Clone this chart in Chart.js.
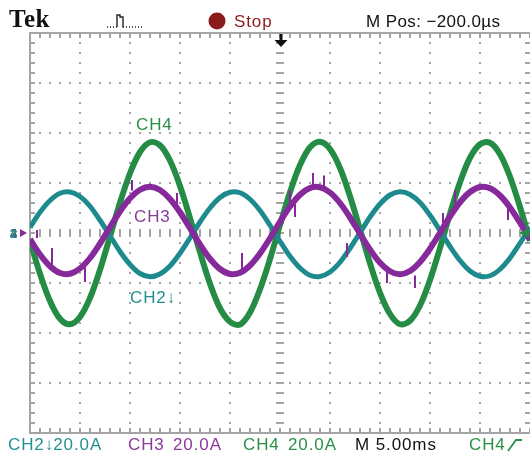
<!DOCTYPE html>
<html>
<head>
<meta charset="utf-8">
<script src="https://cdn.jsdelivr.net/npm/chart.js@4.4.1/dist/chart.umd.min.js"></script>
<style>
  html, body { margin: 0; padding: 0; background: #fff; }
  #screen { position: relative; width: 530px; height: 456px; overflow: hidden; background: #fff; }
  #screen canvas { position: absolute; left: 0; top: 0; }
  .lbl { position: absolute; white-space: pre; font-family: "Liberation Sans", Arial, sans-serif; font-size: 17px; line-height: 17px; letter-spacing: 0.9px; }
  .ch2 { color: #23908f; }
  .ch3 { color: #8a3a9c; }
  .ch4 { color: #2a9048; }
  .arr { font-weight: bold; letter-spacing: 0; }
</style>
</head>
<body>
<div id="screen">
  <canvas id="scope" width="530" height="456"></canvas>

  <div class="lbl" style="left:9px;top:6px;font:bold 25px/25px 'Liberation Serif',serif;color:#111;letter-spacing:0.5px">Tek</div>
  <svg style="position:absolute;left:106px;top:10px" width="40" height="20">
    <path d="M1 17h1M4 17h1M7 17h1M10 17h1 M11 17V5h3v2h3v10h1 M20 17h1M23 17h1M26 17h1M29 17h1M32 17h1M35 17h1"
          fill="none" stroke="#222" stroke-width="1.4"/>
  </svg>
  <svg style="position:absolute;left:207px;top:11px" width="20" height="20">
    <circle cx="10" cy="10" r="8.5" fill="#8b1a1a"/>
  </svg>
  <div class="lbl" style="left:234px;top:13px;color:#8b1c1c">Stop</div>
  <div class="lbl" style="left:366px;top:13px;color:#111;letter-spacing:0.4px">M Pos: −200.0µs</div>

  <div class="lbl ch4" style="left:136px;top:116px">CH4</div>
  <div class="lbl ch3" style="left:134px;top:208px">CH3</div>
  <div class="lbl ch2" style="left:130px;top:289px">CH2<span class="arr">↓</span></div>

  <div class="lbl ch2" style="left:8px;top:436px">CH2<span class="arr">↓</span>20.0A</div>
  <div class="lbl ch3" style="left:128px;top:436px">CH3</div>
  <div class="lbl ch3" style="left:173px;top:436px">20.0A</div>
  <div class="lbl ch4" style="left:243px;top:436px">CH4</div>
  <div class="lbl ch4" style="left:288px;top:436px">20.0A</div>
  <div class="lbl" style="left:355px;top:436px;color:#111">M 5.00ms</div>
  <div class="lbl ch4" style="left:469px;top:436px">CH4</div>
  <svg style="position:absolute;left:506px;top:437px" width="18" height="16">
    <path d="M2 14L10 3h6" fill="none" stroke="#2a9048" stroke-width="1.8"/>
  </svg>
</div>

<script>
// horizontal: 10 divisions of 5 ms, vertical: 8 divisions of 20 A
const msPerDiv = 5;
const ampPerDiv = 20;
const xDivs = 10;
const yDivs = 8;

const timeMs = [0, 1, 2, 3, 4, 5, 6, 7, 8, 9, 10, 11, 12, 13, 14, 15, 16, 17, 18, 19, 20,
  21, 22, 23, 24, 25, 26, 27, 28, 29, 30, 31, 32, 33, 34, 35, 36, 37, 38, 39, 40,
  41, 42, 43, 44, 45, 46, 47, 48, 49, 50];

// CH2 (teal)
const ch2 = [2.3, 8.3, 13.0, 15.9, 16.4, 14.6, 10.7, 5.1, -1.1, -7.4, -12.6, -16.2, -17.5,
  -16.4, -13.2, -8.1, -2.0, 4.4, 10.0, 14.2, 16.3, 16.1, 13.5, 9.0, 3.1, -3.3, -9.3,
  -14.0, -16.9, -17.4, -15.6, -11.7, -6.1, 0.1, 6.4, 11.6, 15.2, 16.5, 15.4, 12.2, 7.1,
  1.0, -5.4, -11.0, -15.2, -17.3, -17.1, -14.5, -10.0, -4.1, 2.3];

// CH3 (purple)
const ch3 = [-2.5, -8.6, -13.3, -16.0, -16.3, -14.2, -10.0, -4.2, 2.3, 8.6, 13.9, 17.3, 18.5,
  17.2, 13.6, 8.3, 1.9, -4.6, -10.3, -14.4, -16.4, -15.9, -13.0, -8.2, -2.1, 4.5, 10.6,
  15.3, 18.0, 18.3, 16.2, 12.0, 6.2, -0.3, -6.6, -11.9, -15.3, -16.5, -15.2, -11.6, -6.3,
  0.1, 6.6, 12.3, 16.4, 18.4, 17.9, 15.0, 10.2, 4.1, -2.5];

// CH4 (green)
const ch4 = [-3.2, -16.3, -27.2, -34.3, -36.5, -33.6, -26.0, -14.7, -1.4, 12.1, 23.9, 32.4, 36.3,
  35.1, 29.0, 18.8, 6.0, -7.7, -20.3, -30.1, -35.5, -36.6, -31.8, -22.5, -10.4, 3.2, 16.3,
  27.2, 34.3, 36.5, 33.6, 26.0, 14.7, 1.4, -12.1, -23.9, -32.4, -36.5, -35.1, -29.0, -18.8,
  -6.0, 7.7, 20.3, 30.1, 35.5, 36.1, 31.5, 22.5, 10.4, -3.2];

// glitches riding on CH3
const spikeTime = [0.7, 2.2, 5.5, 10.2, 14.7, 21.2, 26.0, 26.5, 28.3, 29.4, 31.7, 35.7, 38.5, 41.3, 42.5, 47.8];
const spikeLow = [-2.0, -12.8, -19.6, 17.0, 10.4, -16.0, 10.4, 6.4, 17.5, 17.5, -9.6, -20.0, -22.0, 2.4, 12.0, 5.2];
const spikeHigh = [1.2, -6.0, -11.6, 21.2, 16.0, -8.0, 17.2, 13.2, 24.0, 23.0, -4.0, -15.0, -17.0, 8.0, 17.2, 10.4];

const ch2Color = '#1d8a8d';
const ch3Color = '#86299b';
const ch4Color = '#258c46';
const gridColor = '#a4a4a4';

function points(values) {
  return values.map((v, i) => ({ x: timeMs[i], y: v }));
}

const spikePoints = [];
for (let i = 0; i < spikeTime.length; i++) {
  spikePoints.push({ x: spikeTime[i], y: spikeLow[i] });
  spikePoints.push({ x: spikeTime[i], y: spikeHigh[i] });
  spikePoints.push({ x: spikeTime[i], y: null });
}

const graticule = {
  id: 'graticule',
  beforeDatasetsDraw(chart) {
    const { ctx, chartArea: a, scales: { x, y } } = chart;
    const xMinor = [];
    const yMinor = [];
    for (let m = 0; m <= xDivs * 5; m++) xMinor.push(Math.round(x.getPixelForValue(m * msPerDiv / 5)));
    for (let m = 0; m <= yDivs * 5; m++) yMinor.push(Math.round(y.getPixelForValue(-ampPerDiv * yDivs / 2 + m * ampPerDiv / 5)));
    const cx = xMinor[xDivs * 5 / 2];
    const cy = yMinor[yDivs * 5 / 2];

    ctx.save();
    ctx.fillStyle = gridColor;
    // dotted division lines
    for (let d = 1; d < xDivs; d++) {
      if (d === xDivs / 2) continue;
      const px = xMinor[d * 5];
      yMinor.forEach(py => ctx.fillRect(px - 1, py - 1, 2, 2));
    }
    for (let d = 1; d < yDivs; d++) {
      if (d === yDivs / 2) continue;
      const py = yMinor[d * 5];
      xMinor.forEach(px => ctx.fillRect(px - 1, py - 1, 2, 2));
    }
    // centre cross with minor marks
    yMinor.forEach(py => ctx.fillRect(cx - 4, py - 1, 8, 2));
    xMinor.forEach(px => ctx.fillRect(px - 1, cy - 4, 2, 8));
    // frame with minor ticks
    const l = Math.round(a.left), t = Math.round(a.top), b = Math.round(a.bottom), r = Math.round(a.right);
    ctx.fillRect(l - 1, t - 1, 2, b - t + 2);
    ctx.fillRect(l - 1, t - 1, r - l + 2, 2);
    ctx.fillRect(l - 1, b - 1, r - l + 2, 2);
    xMinor.forEach(px => {
      ctx.fillRect(px - 1, t, 2, 5);
      ctx.fillRect(px - 1, b - 5, 2, 5);
    });
    yMinor.forEach(py => {
      ctx.fillRect(l, py - 1, 5, 2);
      ctx.fillRect(r - 5, py - 1, 5, 2);
    });
    ctx.restore();
  },
  afterDraw(chart) {
    const { ctx, chartArea: a, scales: { x, y } } = chart;
    const tx = Math.round(x.getPixelForValue(25.1));
    const gy = y.getPixelForValue(0);
    ctx.save();
    // trigger position
    ctx.fillStyle = '#111';
    ctx.fillRect(tx - 1.5, 34, 3, 7);
    ctx.beginPath();
    ctx.moveTo(tx - 6.5, 40);
    ctx.lineTo(tx + 6.5, 40);
    ctx.lineTo(tx, 47);
    ctx.closePath();
    ctx.fill();
    // trigger level
    ctx.fillStyle = ch4Color;
    ctx.beginPath();
    ctx.moveTo(a.right - 11, gy);
    ctx.lineTo(a.right - 1, gy - 5);
    ctx.lineTo(a.right - 1, gy + 5);
    ctx.closePath();
    ctx.fill();
    // ground reference markers
    ctx.font = 'bold 13px "Liberation Sans", Arial, sans-serif';
    ctx.textBaseline = 'middle';
    ctx.fillStyle = ch4Color;
    ctx.fillText('4', 10, gy + 1);
    ctx.fillStyle = ch3Color;
    ctx.fillText('3', 10, gy + 1);
    ctx.fillStyle = ch2Color;
    ctx.fillText('2', 10, gy + 1);
    ctx.fillStyle = ch3Color;
    ctx.beginPath();
    ctx.moveTo(20, gy - 4);
    ctx.lineTo(27, gy);
    ctx.lineTo(20, gy + 4);
    ctx.closePath();
    ctx.fill();
    ctx.restore();
  }
};

new Chart(document.getElementById('scope').getContext('2d'), {
  type: 'line',
  data: {
    datasets: [
      { label: 'CH3 spikes', data: spikePoints, borderColor: ch3Color, borderWidth: 2, pointRadius: 0, spanGaps: false, order: 0 },
      { label: 'CH3', data: points(ch3), borderColor: ch3Color, borderWidth: 6, pointRadius: 0, tension: 0.35, order: 1 },
      { label: 'CH2', data: points(ch2), borderColor: ch2Color, borderWidth: 5, pointRadius: 0, tension: 0.35, order: 2 },
      { label: 'CH4', data: points(ch4), borderColor: ch4Color, borderWidth: 6, pointRadius: 0, tension: 0.35, order: 3 }
    ]
  },
  options: {
    responsive: false,
    animation: false,
    events: [],
    layout: { padding: { left: 30, top: 33, right: 0, bottom: 23 } },
    plugins: { legend: { display: false }, tooltip: { enabled: false } },
    scales: {
      x: { type: 'linear', min: 0, max: msPerDiv * xDivs, display: false },
      y: { type: 'linear', min: -ampPerDiv * yDivs / 2, max: ampPerDiv * yDivs / 2, display: false }
    }
  },
  plugins: [graticule]
});
</script>
</body>
</html>
